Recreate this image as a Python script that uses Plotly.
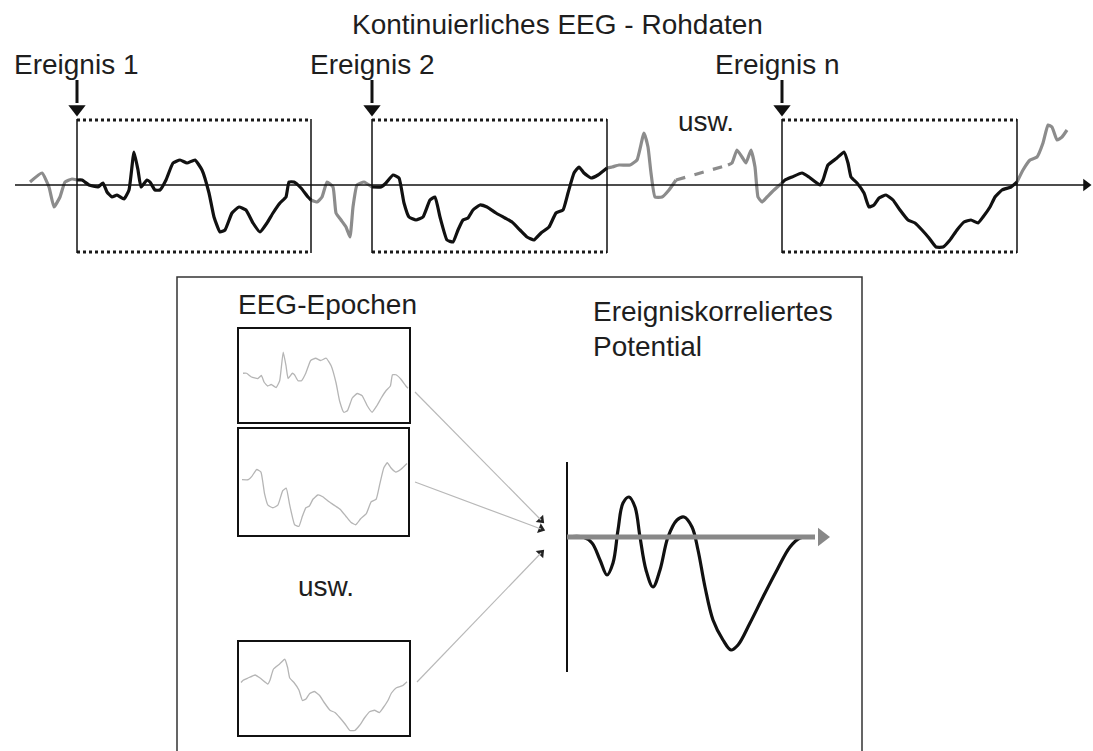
import numpy as np
import plotly.graph_objects as go

W, H = 1093, 751
BASE = 185  # pixel row of the continuous-EEG time axis

# ---------------- continuous raw EEG (x position, amplitude up) ----------------
gray_a_x = [30, 42, 49, 54, 60, 65, 72, 77]
gray_a_y = [3, 12, -2, -22, -12, 3, 6, 5]

black1_x = [77, 82, 89, 98, 103, 107, 112, 117, 124, 129, 134, 138, 141, 147, 150, 155, 160, 166, 173, 180,
            187, 195, 202, 209, 214, 220, 225, 232, 239, 246, 253, 260, 267, 273, 280, 286, 289, 294, 301, 308, 311]
black1_y = [5, 5, 0, -2, 2, -7, -12, -10, -14, -5, 33, 15, -2, 5, 3, -5, -5, 5, 22, 25,
            22, 25, 15, -8, -32, -47, -45, -28, -22, -25, -38, -47, -38, -28, -18, -12, 3, 3, -3, -12, -15]

gray_b_x = [311, 317, 322, 327, 333, 336, 341, 346, 350, 353, 357, 364, 372]
gray_b_y = [-15, -17, -12, 3, -2, -28, -35, -42, -52, -22, 0, 3, -2]

black2_x = [372, 381, 386, 393, 399, 404, 409, 416, 423, 430, 435, 440, 447, 453, 458, 463, 468, 473, 480, 487,
            496, 505, 512, 520, 527, 534, 541, 549, 556, 563, 568, 574, 579, 584, 591, 598, 607]
black2_y = [-2, -2, 2, 10, 7, -18, -32, -35, -32, -15, -12, -32, -55, -57, -45, -35, -33, -25, -20, -22,
            -28, -33, -37, -45, -52, -55, -48, -42, -28, -25, -8, 12, 18, 12, 7, 10, 17]

gray_c_x = [607, 612, 619, 630, 637, 644, 648, 651, 655, 662, 669, 676]
gray_c_y = [17, 18, 20, 20, 25, 52, 38, 12, -12, -12, -5, 5]

gap_x = [676, 728]
gap_y = [5, 20]

gray_d_x = [728, 732, 737, 742, 746, 751, 755, 758, 762, 767, 774, 782]
gray_d_y = [20, 22, 35, 28, 22, 35, 18, -12, -17, -12, -5, 2]

blackn_x = [782, 785, 792, 802, 809, 820, 823, 828, 837, 844, 848, 851, 857, 864, 869, 874, 879, 886, 893, 900,
            908, 915, 922, 929, 936, 943, 950, 957, 964, 971, 978, 983, 990, 995, 1002, 1011, 1017]
blackn_y = [2, 5, 8, 12, 8, 0, 5, 20, 27, 33, 22, 8, 2, -8, -22, -20, -13, -10, -15, -25,
            -35, -38, -45, -53, -62, -62, -55, -45, -37, -35, -38, -32, -22, -12, -5, -2, 3]

gray_e_x = [1017, 1023, 1030, 1037, 1043, 1048, 1052, 1057, 1062, 1067]
gray_e_y = [3, 15, 25, 28, 42, 60, 58, 45, 48, 55]

# event windows (start, end) and labels
event_labels = ["Ereignis 1", "Ereignis 2", "Ereignis n"]
event_start = [77, 372, 782]
event_end = [311, 607, 1017]
label_left = [12, 308, 713]

# ---------------- epochs (target boxes) ----------------
epoch_box_x0 = [238, 238, 238]
epoch_box_x1 = [410, 409, 410]
epoch_box_y0 = [328, 428, 641]
epoch_box_y1 = [423, 536, 736]
epoch_base = [377, 478, 684]
epoch_gain = [0.75, 0.85, 0.75]
epoch_inner_x0 = [243, 242, 241]
epoch_inner_x1 = [408, 407, 407]

# ---------------- event-related potential ----------------
erp_x = [567, 583, 592, 600, 607, 613, 618, 623, 629, 635, 640, 646, 653, 660, 668, 677, 684, 692, 698, 705,
         713, 723, 731, 738, 750, 763, 777, 790, 800, 808]
erp_y = [0, 0, -6, -23, -38, -26, 7, 34, 40, 30, 0, -33, -50, -33, 0, 17, 20, 10, -13, -50,
         -83, -103, -113, -108, -86, -60, -33, -10, -1, 0]
ERP_BASE = 537

# converging arrows (from epoch box to ERP)
conv_x0 = [415, 415, 417]
conv_y0 = [392, 482, 682]
conv_x1 = [541, 541, 541]
conv_y1 = [520, 529, 553]

FONT = "Liberation Sans, Arial, sans-serif"
TXT = "#1e1e1e"
GRAY = "#8c8c8c"

fig = go.Figure()


def line(x, y, color, width, dash="solid", shape="spline", smooth=0.4):
    fig.add_trace(go.Scatter(x=x, y=y, mode="lines",
                             line=dict(color=color, width=width, dash=dash, shape=shape, smoothing=smooth),
                             hoverinfo="skip", showlegend=False))


def to_px(a, base=BASE, gain=1.0):
    return list(base - gain * np.asarray(a, dtype=float))


# raw EEG
for xs, ys in [(gray_a_x, gray_a_y), (gray_b_x, gray_b_y), (gray_c_x, gray_c_y),
               (gray_d_x, gray_d_y), (gray_e_x, gray_e_y)]:
    line(xs, to_px(ys), GRAY, 3.2)
line(gap_x, to_px(gap_y), GRAY, 3.2, dash="dash", shape="linear")
for xs, ys in [(black1_x, black1_y), (black2_x, black2_y), (blackn_x, blackn_y)]:
    line(xs, to_px(ys), "#111111", 3.2)

shapes = []
# time axis
shapes.append(dict(type="line", x0=15, x1=1084, y0=BASE, y1=BASE, line=dict(color="#111", width=1.6)))
# event windows
for s, e in zip(event_start, event_end):
    for yy in (120, 252):
        shapes.append(dict(type="line", x0=s, x1=e, y0=yy, y1=yy, line=dict(color="#1a1a1a", width=3, dash="dot")))
    for xx in (s, e):
        shapes.append(dict(type="line", x0=xx, x1=xx, y0=119, y1=253, line=dict(color="#111", width=1.5)))
    shapes.append(dict(type="line", x0=s, x1=s, y0=80, y1=103, line=dict(color="#111", width=3)))

# big lower frame
shapes.append(dict(type="rect", x0=177, x1=862, y0=277, y1=770, line=dict(color="#333", width=1.5)))
# epoch boxes
for x0, x1, y0, y1 in zip(epoch_box_x0, epoch_box_x1, epoch_box_y0, epoch_box_y1):
    shapes.append(dict(type="rect", x0=x0, x1=x1, y0=y0, y1=y1, line=dict(color="#111", width=2)))
# converging arrows
for x0, y0, x1, y1 in zip(conv_x0, conv_y0, conv_x1, conv_y1):
    shapes.append(dict(type="line", x0=x0, y0=y0, x1=x1, y1=y1, line=dict(color="#b8b8b8", width=1.2)))
# ERP axes
shapes.append(dict(type="line", x0=567, x1=567, y0=462, y1=672, line=dict(color="#111", width=2)))
shapes.append(dict(type="line", x0=567, x1=815, y0=ERP_BASE, y1=ERP_BASE, line=dict(color="#888", width=5)))

# epoch traces (copies of the windows)
for (xs, ys), base, gain, ix0, ix1 in zip([(black1_x, black1_y), (black2_x, black2_y), (blackn_x, blackn_y)],
                                          epoch_base, epoch_gain, epoch_inner_x0, epoch_inner_x1):
    xs = np.asarray(xs, dtype=float)
    sx = ix0 + (xs - xs[0]) * (ix1 - ix0) / (xs[-1] - xs[0])
    line(list(sx), to_px(ys, base, gain), "#b5b5b5", 1.3)

# ERP curve
line(erp_x, to_px(erp_y, ERP_BASE), "#111111", 3.2, smooth=1.0)

# arrowheads
fig.add_trace(go.Scatter(x=event_start, y=[109] * 3, mode="markers",
                         marker=dict(symbol="triangle-down", size=15, color="#111"),
                         hoverinfo="skip", showlegend=False))
fig.add_trace(go.Scatter(x=[1086], y=[BASE], mode="markers",
                         marker=dict(symbol="triangle-right", size=11, color="#111"),
                         hoverinfo="skip", showlegend=False))
fig.add_trace(go.Scatter(x=[822], y=[ERP_BASE], mode="markers",
                         marker=dict(symbol="triangle-right", size=16, color="#888"),
                         hoverinfo="skip", showlegend=False))
angles = [float(np.degrees(np.arctan2(x1 - x0, -(y1 - y0)))) for x0, y0, x1, y1 in
          zip(conv_x0, conv_y0, conv_x1, conv_y1)]
fig.add_trace(go.Scatter(x=conv_x1, y=conv_y1, mode="markers",
                         marker=dict(symbol="triangle-up", size=9, color="#222", angle=angles),
                         hoverinfo="skip", showlegend=False))

ann = []


def text(x, y, s, anchor="left", size=28):
    ann.append(dict(x=x, y=y, text=s, showarrow=False, xanchor=anchor, yanchor="middle",
                    font=dict(family=FONT, size=size, color=TXT)))


text(557, 24, "Kontinuierliches EEG - Rohdaten", anchor="center")
for lx, lab in zip(label_left, event_labels):
    text(lx, 64, lab)
text(706, 121, "usw.", anchor="center")
text(236, 304, "EEG-Epochen")
text(591, 311, "Ereigniskorreliertes")
text(591, 346, "Potential")
text(326, 586, "usw.", anchor="center")

fig.update_layout(width=W, height=H, margin=dict(l=0, r=0, t=0, b=0),
                  paper_bgcolor="white", plot_bgcolor="white",
                  xaxis=dict(range=[0, W], visible=False, fixedrange=True),
                  yaxis=dict(range=[H, 0], visible=False, fixedrange=True),
                  shapes=shapes, annotations=ann, showlegend=False)

fig.write_html("out.html", config={"displayModeBar": False},
               post_script="document.body.style.margin='0';document.body.style.overflow='hidden';")
